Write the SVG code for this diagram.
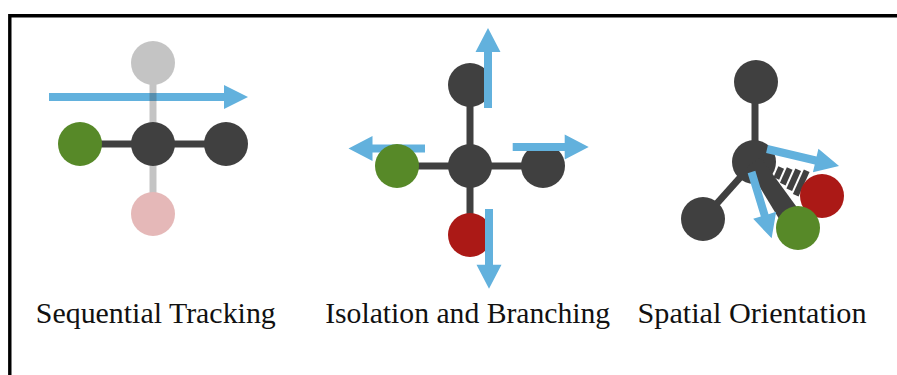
<svg xmlns="http://www.w3.org/2000/svg" width="897" height="375" viewBox="0 0 897 375">
<style>
.bond{stroke:#404040;stroke-width:7;fill:none}
.dark{fill:#404040}
.green{fill:#578928}
.red{fill:#ab1916}
.arrow{fill:#62b1dd}
.label{font-family:'Liberation Serif','Times New Roman',serif;font-size:28.5px;fill:#111;text-anchor:middle}
</style>
<rect width="897" height="375" fill="#fff"/>
<path d="M9.8,380 V15.7 H900" fill="none" stroke="#000" stroke-width="3.4"/>

<g id="panel-sequential">
  <g id="seq-arrow" class="connector">
    <path class="arrow" transform="translate(49,97)" d="M0,-4 H175 V-12 L199,0 L175,12 V4 H0 Z"/>
  </g>
  <g id="seq-bonds">
    <line class="bond" x1="80" y1="144" x2="226" y2="144"/>
  </g>
  <g id="seq-top-faded" opacity="0.3">
    <line class="bond" x1="153" y1="63" x2="153" y2="144"/>
    <circle class="dark" cx="153" cy="63" r="22"/>
  </g>
  <g id="seq-bottom-faded" opacity="0.3">
    <line class="bond" x1="153" y1="144" x2="153" y2="214"/>
    <circle class="red" cx="153" cy="214" r="22"/>
  </g>
  <g id="seq-left"><circle class="green" cx="80" cy="144" r="22"/></g>
  <g id="seq-center"><circle class="dark" cx="153" cy="144" r="22"/></g>
  <g id="seq-right"><circle class="dark" cx="226" cy="144" r="22"/></g>
  <text class="label" font-family="Liberation Serif, serif" x="155.8" y="323" textLength="240" lengthAdjust="spacingAndGlyphs">Sequential Tracking</text>
</g>

<g id="panel-isolation">
  <g id="iso-bonds">
    <line class="bond" x1="397" y1="166" x2="543" y2="166"/>
    <line class="bond" x1="470" y1="85" x2="470" y2="235"/>
  </g>
  <g id="iso-arrow-left" class="connector">
    <path class="arrow" transform="translate(425,148.5) rotate(180)" d="M0,-4 H52.5 V-12.5 L76.5,0 L52.5,12.5 V4 H0 Z"/>
  </g>
  <g id="iso-center"><circle class="dark" cx="470" cy="166" r="22"/></g>
  <g id="iso-top"><circle class="dark" cx="470" cy="85" r="22"/></g>
  <g id="iso-left"><circle class="green" cx="397" cy="166" r="22"/></g>
  <g id="iso-right"><circle class="dark" cx="543" cy="166" r="22"/></g>
  <g id="iso-bottom"><circle class="red" cx="470" cy="235" r="22"/></g>
  <g id="iso-arrows" class="connector">
    <path class="arrow" transform="translate(488,108) rotate(-90)" d="M0,-4 H56 V-12.5 L80,0 L56,12.5 V4 H0 Z"/>
    <path class="arrow" transform="translate(512.7,147)" d="M0,-4 H52 V-12.5 L76,0 L52,12.5 V4 H0 Z"/>
    <path class="arrow" transform="translate(489,209) rotate(90)" d="M0,-4 H55.7 V-12.5 L79.7,0 L55.7,12.5 V4 H0 Z"/>
  </g>
  <text class="label" font-family="Liberation Serif, serif" x="467.7" y="323" textLength="285" lengthAdjust="spacingAndGlyphs">Isolation and Branching</text>
</g>

<g id="panel-spatial">
  <g id="sp-bonds">
    <line class="bond" x1="755" y1="82" x2="755" y2="162"/>
    <line class="bond" x1="754" y1="162" x2="703" y2="219"/>
  </g>
  <g id="sp-top"><circle class="dark" cx="756" cy="82" r="22"/></g>
  <g id="sp-center"><circle class="dark" cx="754" cy="162" r="22"/></g>
  <g id="sp-bottomleft"><circle class="dark" cx="703" cy="219" r="22"/></g>
  <g id="sp-hashed-wedge" transform="translate(754,162) rotate(24)">
    <rect class="dark" x="24" y="-6" width="6.2" height="12"/>
    <rect class="dark" x="32.2" y="-8.5" width="6.2" height="17"/>
    <rect class="dark" x="40.4" y="-11" width="6.2" height="22"/>
    <rect class="dark" x="48.6" y="-13.5" width="6.2" height="27"/>
  </g>
  <g id="sp-solid-wedge">
    <polygon class="dark" points="760.7,157.6 802.0,214.2 783.7,226.4 747.3,166.4"/>
  </g>
  <g id="sp-red"><circle class="red" cx="822" cy="196" r="22"/></g>
  <g id="sp-green"><circle class="green" cx="798" cy="228" r="22"/></g>
  <g id="sp-arrows" class="connector">
    <path class="arrow" transform="translate(767,149) rotate(13.3)" d="M0,-4 H50 V-12 L74,0 L50,12 V4 H0 Z"/>
    <path class="arrow" transform="translate(751.5,172) rotate(73.1)" d="M0,-4 H45.3 V-12 L69.3,0 L45.3,12 V4 H0 Z"/>
  </g>
  <text class="label" font-family="Liberation Serif, serif" x="752" y="323" textLength="229" lengthAdjust="spacingAndGlyphs">Spatial Orientation</text>
</g>
</svg>
